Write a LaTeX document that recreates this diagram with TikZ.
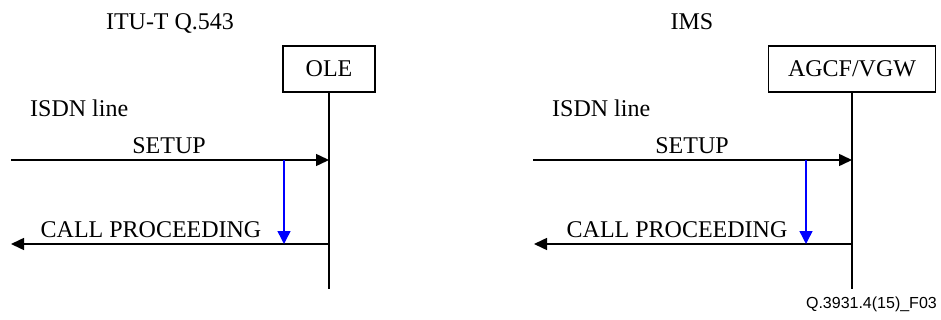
\documentclass[tikz,border=0pt]{standalone}
\usepackage{fontspec}
\setmainfont{Liberation Serif}
\newfontfamily\labelsans{Liberation Sans}
\usetikzlibrary{arrows.meta}
\begin{document}
\begin{tikzpicture}[x=1pt,y=-1pt,
  lbl/.style={inner sep=0pt,font=\fontsize{24}{27}\selectfont,anchor=base},
  entity/.style={draw,line width=1.5pt,inner sep=0pt,minimum height=46pt,font=\fontsize{24}{27}\selectfont},
  life/.style={line width=1.5pt},
  msg/.style={line width=1.5pt,-{Triangle[length=13pt,width=12pt]}},
  bluemark/.style={draw=blue,line width=1.5pt,-{Triangle[length=13pt,width=13pt]}}]
\useasboundingbox (0,0) rectangle (941,320);
% left panel
\node[lbl] (t1) at (170,30) {ITU-T Q.543};
\node[entity,minimum width=92pt] (ole) at (329,69) {OLE};
\coordinate (oleend) at (329,289);
\draw[life] (ole.south) -- (oleend);
\node[lbl,anchor=base west] (isdn1) at (30,117) {ISDN line};
\coordinate (s1a) at (11,160);
\coordinate (s1b) at (329,160);
\draw[msg] (s1a) -- (s1b);
\node[lbl] (setup1) at (169,154) {SETUP};
\coordinate (c1a) at (329,244);
\coordinate (c1b) at (11,244);
\draw[msg] (c1a) -- (c1b);
\node[lbl] (cp1) at (151,237) {CALL PROCEEDING};
\coordinate (b1a) at (284,160);
\coordinate (b1b) at (284,244);
\draw[bluemark] (b1a) -- (b1b);
% right panel
\node[lbl] (t2) at (692,30) {IMS};
\node[entity,minimum width=167pt] (agcf) at (852,69) {AGCF/VGW};
\coordinate (agcfend) at (852,289);
\draw[life] (agcf.south) -- (agcfend);
\node[lbl,anchor=base west] (isdn2) at (552,117) {ISDN line};
\coordinate (s2a) at (533,160);
\coordinate (s2b) at (852,160);
\draw[msg] (s2a) -- (s2b);
\node[lbl] (setup2) at (692,154) {SETUP};
\coordinate (c2a) at (852,244);
\coordinate (c2b) at (534,244);
\draw[msg] (c2a) -- (c2b);
\node[lbl] (cp2) at (677,237) {CALL PROCEEDING};
\coordinate (b2a) at (806,160);
\coordinate (b2b) at (806,244);
\draw[bluemark] (b2a) -- (b2b);
\node[inner sep=0pt,anchor=base east,font=\labelsans\fontsize{16}{18}\selectfont] (fig) at (937,308) {Q.3931.4(15)\_F03};
\end{tikzpicture}
\end{document}
